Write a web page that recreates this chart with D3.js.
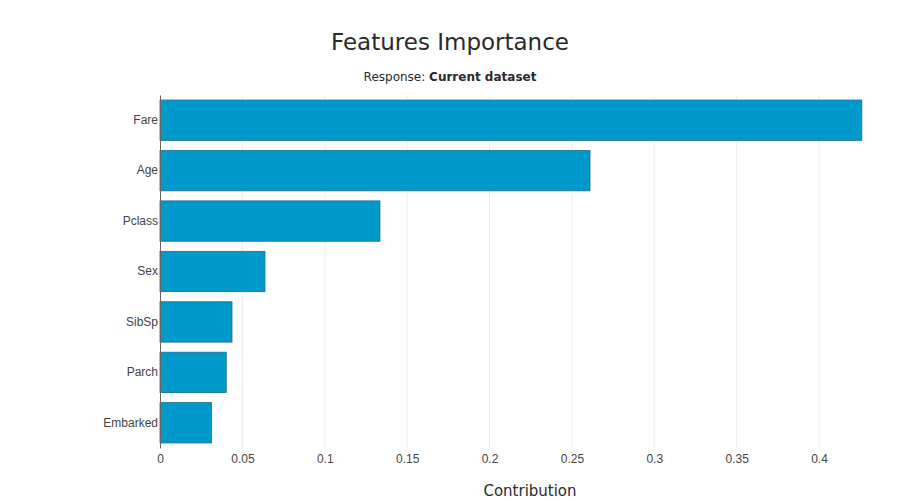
<!DOCTYPE html>
<html><head><meta charset="utf-8">
<script src="https://cdn.jsdelivr.net/npm/d3@7"></script>
<style>body{margin:0;background:#fff;font-family:"DejaVu Sans",sans-serif;}</style>
</head><body>
<svg id="chart" width="900" height="500"></svg>
<script>
// feature importance values
var features = ['Fare', 'Age', 'Pclass', 'Sex', 'SibSp', 'Parch', 'Embarked'];
var contributions = [0.426, 0.261, 0.1335, 0.0637, 0.0437, 0.0402, 0.0312];
var xTicks = [0, 0.05, 0.1, 0.15, 0.2, 0.25, 0.3, 0.35, 0.4];

var svg = d3.select('#chart'),
    margin = { top: 95, left: 160, right: 35, bottom: 52 },
    width = 900 - margin.left - margin.right,
    height = 500 - margin.top - margin.bottom;

var x = d3.scaleLinear().domain([0, 0.4 * width / 659]).range([0, width]);
var y = d3.scaleBand().domain(features).range([0, height]).paddingInner(0.2).paddingOuter(0.1);

var g = svg.append('g').attr('transform', 'translate(' + margin.left + ',' + margin.top + ')');

// grid lines
g.selectAll('.grid').data(xTicks.slice(1)).enter().append('line')
    .attr('x1', x).attr('x2', x).attr('y1', 0).attr('y2', height)
    .attr('stroke', '#eee').attr('stroke-width', 1);

g.selectAll('.bar').data(features).enter().append('rect')
    .attr('x', 0)
    .attr('y', function (d) { return y(d); })
    .attr('width', function (d, i) { return x(contributions[i]); })
    .attr('height', y.bandwidth())
    .attr('fill', '#0099cc')
    .attr('stroke', '#1a6f8a').attr('stroke-width', 0.8);

var xAxis = g.append('g').attr('transform', 'translate(0,' + height + ')')
    .call(d3.axisBottom(x).tickValues(xTicks).tickSize(0).tickPadding(6).tickFormat(d3.format('')));
xAxis.select('.domain').remove();
xAxis.selectAll('text').attr('fill', '#444').style('font-size', '12px');

var yAxis = g.append('g').call(d3.axisLeft(y).tickSize(0).tickPadding(2));
yAxis.select('.domain').attr('stroke', '#666');
yAxis.selectAll('text').attr('fill', '#444').style('font-size', '12px');

svg.append('text').attr('x', 450).attr('y', 50).attr('text-anchor', 'middle')
    .attr('fill', '#2a2a2a').style('font-size', '23px').text('Features Importance');

var sub = svg.append('text').attr('x', 450).attr('y', 81).attr('text-anchor', 'middle')
    .attr('fill', '#2a2a2a').style('font-size', '12px');
sub.append('tspan').text('Response: ');
sub.append('tspan').attr('font-weight', 'bold').text('Current dataset');

svg.append('text').attr('x', 530).attr('y', 496).attr('text-anchor', 'middle')
    .attr('fill', '#2a2a2a').style('font-size', '15px').text('Contribution');
</script>
</body></html>
